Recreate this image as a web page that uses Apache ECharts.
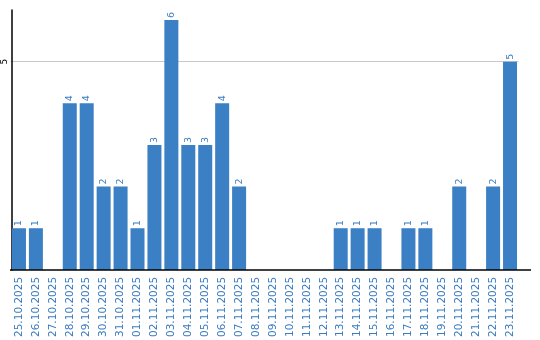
<!DOCTYPE html>
<html><head><meta charset="utf-8">
<script src="https://cdn.jsdelivr.net/npm/echarts@6/dist/echarts.min.js"></script>
<style>html,body{margin:0;padding:0;background:#fff}#c{width:540px;height:340px}</style>
</head><body><div id="c"></div>
<script>
const categories = ["25.10.2025","26.10.2025","27.10.2025","28.10.2025","29.10.2025","30.10.2025","31.10.2025","01.11.2025","02.11.2025","03.11.2025","04.11.2025","05.11.2025","06.11.2025","07.11.2025","08.11.2025","09.11.2025","10.11.2025","11.11.2025","12.11.2025","13.11.2025","14.11.2025","15.11.2025","16.11.2025","17.11.2025","18.11.2025","19.11.2025","20.11.2025","21.11.2025","22.11.2025","23.11.2025"];
const values = [1,1,0,4,4,2,2,1,3,6,3,3,4,2,0,0,0,0,0,1,1,1,0,1,1,0,2,0,2,5];
const yTicks = [0,5];

const chart = echarts.init(document.getElementById('c'), null, {renderer:'canvas'});
chart.setOption({
  animation:false,
  grid:{left:8.5, right:21.5, top:10, bottom:70, containLabel:false},
  xAxis:{type:'category', data:categories,
    axisLine:{show:false}, axisTick:{show:false},
    axisLabel:{rotate:90, interval:0, color:'#3b7cc0', fontFamily:'DejaVu Sans', fontSize:10.5, margin:7}},
  yAxis:{type:'value', min:0, max:6.24, interval:yTicks[1]-yTicks[0], offset:-1.5,
    axisLine:{show:true, lineStyle:{color:'#000', width:1.5}}, axisTick:{show:false},
    axisLabel:{rotate:90, color:'#000', fontFamily:'DejaVu Sans', fontSize:9, margin:3, showMinLabel:false, showMaxLabel:false},
    splitLine:{show:true, showMinLine:false, showMaxLine:false, lineStyle:{color:'#c8c8c8', width:1}}},
  series:[{type:'bar', data:values.map(v=>v===0?null:v), barWidth:14, barCategoryGap:'17.6%',
    itemStyle:{color:'#3b7fc4'},
    label:{show:true, position:'top', rotate:90, align:'left', verticalAlign:'middle', distance:2,
      color:'#3b7cc0', fontFamily:'DejaVu Sans', fontSize:9.5}}],
  graphic:[{type:'line', shape:{x1:10, y1:270, x2:531, y2:270}, style:{stroke:'#000', lineWidth:1.5}, z:10}]
});
</script></body></html>
